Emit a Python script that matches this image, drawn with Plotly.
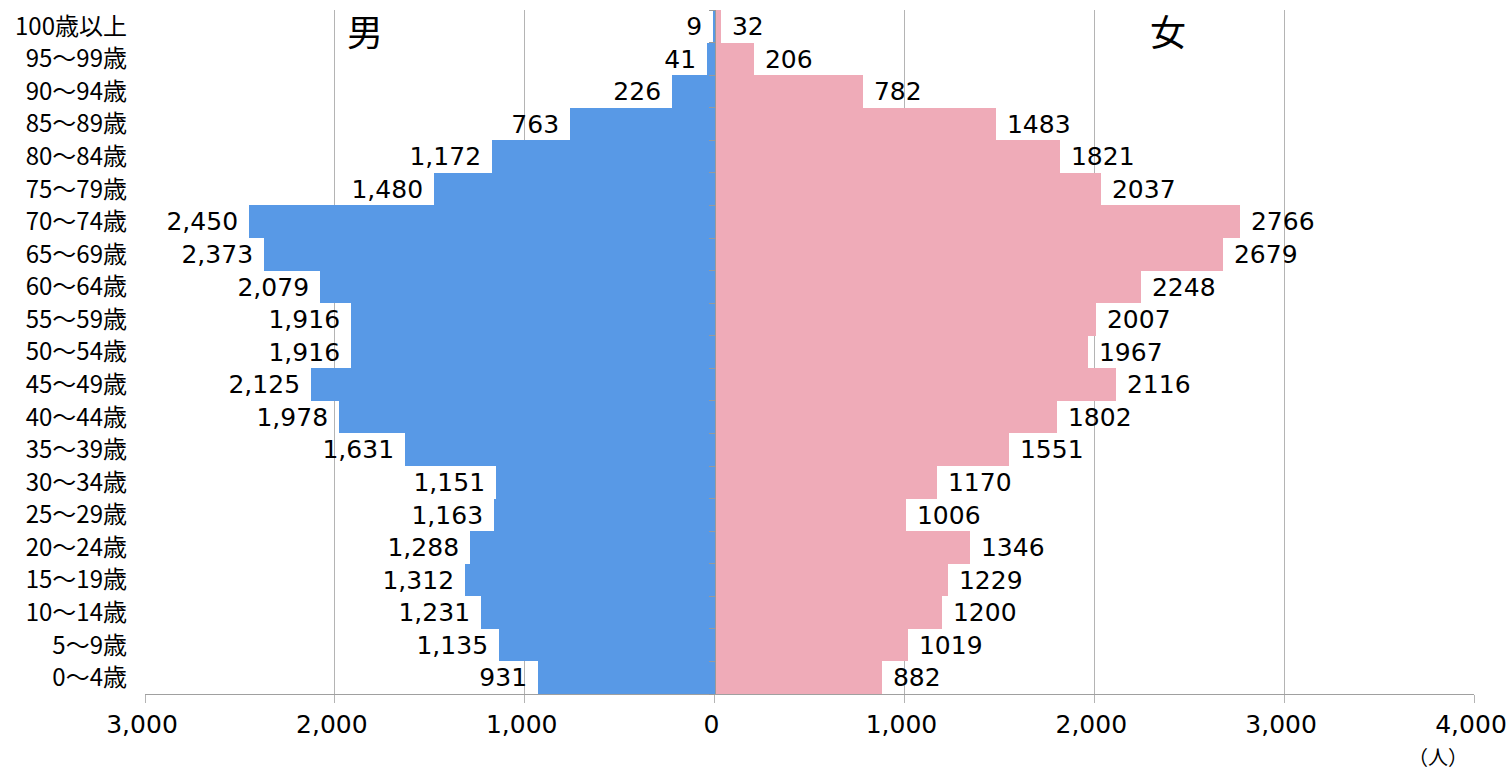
import plotly.graph_objects as go

ages = ["0～4歳", "5～9歳", "10～14歳", "15～19歳", "20～24歳", "25～29歳", "30～34歳",
        "35～39歳", "40～44歳", "45～49歳", "50～54歳", "55～59歳", "60～64歳", "65～69歳",
        "70～74歳", "75～79歳", "80～84歳", "85～89歳", "90～94歳", "95～99歳", "100歳以上"]
male = [931, 1135, 1231, 1312, 1288, 1163, 1151, 1631, 1978, 2125, 1916, 1916, 2079, 2373,
        2450, 1480, 1172, 763, 226, 41, 9]
female = [882, 1019, 1200, 1229, 1346, 1006, 1170, 1551, 1802, 2116, 1967, 2007, 2248, 2679,
          2766, 2037, 1821, 1483, 782, 206, 32]
x_tickvals = [-3000, -2000, -1000, 0, 1000, 2000, 3000, 4000]
x_ticktext = ["3,000", "2,000", "1,000", "0", "1,000", "2,000", "3,000", "4,000"]

NUMFONT = "DejaVu Sans, Noto Sans CJK JP, sans-serif"
CJKFONT = "Noto Sans CJK JP, DejaVu Sans, sans-serif"
ypos = list(range(len(ages)))

fig = go.Figure()
fig.add_trace(go.Bar(
    y=ypos, x=[-v for v in male], orientation="h",
    marker=dict(color="#5899E6", line=dict(width=0)),
    text=[f"{v:,} " for v in male], textposition="outside",
    textfont=dict(size=25, color="#000", family=NUMFONT),
    constraintext="none", cliponaxis=False, name="男", hoverinfo="skip",
))
fig.add_trace(go.Bar(
    y=ypos, x=female, orientation="h", yaxis="y2",
    marker=dict(color="#EFABB8", line=dict(width=0)),
    text=[f" {v}" for v in female], textposition="outside",
    textfont=dict(size=25, color="#000", family=NUMFONT),
    constraintext="none", cliponaxis=False, name="女", hoverinfo="skip",
))

yr = [-0.5, len(ages) - 0.5]
fig.update_layout(
    width=1508, height=770,
    margin=dict(l=145, r=34, t=10, b=76),
    paper_bgcolor="white", plot_bgcolor="white",
    barmode="overlay", bargap=0,
    showlegend=False,
    font=dict(family=CJKFONT, size=22, color="#000"),
    xaxis=dict(
        range=[-3000, 4000], tickvals=x_tickvals, ticktext=x_ticktext,
        showgrid=True, gridcolor="#b4b4b4", gridwidth=1,
        zeroline=False, showline=True, linecolor="#a0a0a0", linewidth=1,
        ticks="outside", ticklen=8, tickcolor="#b4b4b4",
        tickfont=dict(size=25, color="#000", family=NUMFONT),
        ticklabeloverflow="allow", ticklabelshift=-3,
        automargin=False,
    ),
    yaxis=dict(
        range=yr, tickvals=ypos, ticktext=ages,
        showgrid=False, zeroline=False, showline=False,
        ticks="", ticklabelstandoff=17,
        tickfont=dict(size=24, color="#000", family=CJKFONT),
        automargin=False,
    ),
    yaxis2=dict(
        range=yr, overlaying="y", anchor="free", position=3 / 7, side="left",
        showgrid=False, zeroline=False, showline=True, linecolor="#999999", linewidth=1,
        ticks="outside", ticklen=6, tickcolor="#999999",
        tickvals=[i - 0.5 for i in range(len(ages) + 1)], showticklabels=False,
        automargin=False,
    ),
    annotations=[
        dict(text="男", x=-1841, y=len(ages) - 1.1, xref="x", yref="y", showarrow=False,
             font=dict(size=36, color="#000", family=CJKFONT)),
        dict(text="女", x=2390, y=len(ages) - 1.1, xref="x", yref="y", showarrow=False,
             font=dict(size=36, color="#000", family=CJKFONT)),
        dict(text="（人）", x=3810, y=-0.092, xref="x", yref="paper", showarrow=False,
             yanchor="middle", font=dict(size=20, color="#000", family=CJKFONT)),
    ],
)

fig.write_html(
    "out.html",
    config={"displayModeBar": False},
    post_script="document.body.style.margin='0';document.body.style.overflow='hidden';",
)
